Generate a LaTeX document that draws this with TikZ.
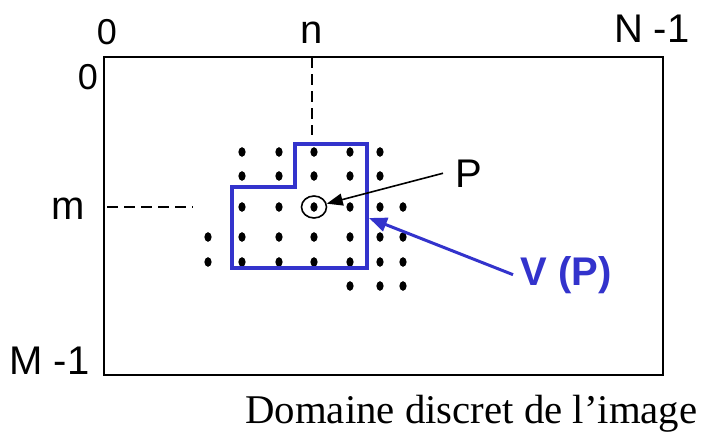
\documentclass[tikz,border=0pt]{standalone}
\usepackage{fontspec}
\setmainfont{Liberation Serif}
\newfontfamily\arial{Liberation Sans}
\usetikzlibrary{arrows.meta,shapes.geometric}
\definecolor{vblue}{RGB}{51,51,204}

\begin{document}
\begin{tikzpicture}[x=0.5pt, y=-0.5pt, >={Triangle[length=8pt,width=6pt]},
    every node/.style={inner sep=0pt, font=\arial\fontsize{20}{24}\selectfont}]

% Estilos
\tikzset{
    frame/.style={draw=black, line width=1pt},
    guide/.style={draw=black, line width=0.6pt, dash pattern=on 5.5pt off 3pt},
    region/.style={draw=vblue, line width=1.6pt},
    pointer/.style={->, line width=0.8pt},
    zerolbl/.style={font=\arial\fontsize{18}{22}\selectfont}
}

\useasboundingbox (0,0) rectangle (703,439);

% =============================================
% DOMAINE DE L'IMAGE
% =============================================
\draw[frame] (104,57) rectangle (663,375);

\node[zerolbl] (col0) at (107,32) {0};
\node[anchor=base] (coln) at (312,44) {n};
\node[anchor=base east] (colN) at (690,42) {N -1};
\node[zerolbl] (row0) at (88,77) {0};
\node[anchor=base east] (rowm) at (85,220) {m};
\node[anchor=base east] (rowM) at (90,374) {M -1};

% Lignes de repere (n, m)
\draw[guide] (312,57) -- (312,135);
\draw[guide] (107,207) -- (193,207);

% =============================================
% PIXELS ET VOISINAGE
% =============================================
\foreach \y/\xs in {152/{242,279,314,350,380},
                    176/{242,279,314,350,380},
                    207/{242,279,314,350,380,403},
                    237/{208,242,279,314,350,380,403},
                    262/{208,242,279,314,350,380,403},
                    286/{350,380,403}} {
    \foreach \x in \xs {
        \fill (\x,\y) ellipse (1.8pt and 2.4pt);
    }
}

% Voisinage V(P)
\draw[region] (295,144) -- (367,144) -- (367,268) -- (232,268)
    -- (232,187) -- (295,187) -- cycle;

% Pixel P
\node[draw, ellipse, line width=0.8pt, minimum width=12.5pt, minimum height=11pt] (cP) at (314,207) {};
\node[anchor=base west] (lblP) at (455,187) {P};
\draw[pointer] ([xshift=-6pt]lblP.west) -- (cP);

\node[anchor=base west, text=vblue, font=\arial\bfseries\fontsize{20}{24}\selectfont] (lblVP) at (520,285) {V (P)};
\coordinate (vtip) at (369,218);
\draw[pointer, vblue, line width=1.5pt, >={Triangle[length=9pt,width=7pt]}] ([xshift=-3.5pt]lblVP.west) -- (vtip);

% Legende
\node[anchor=base west, font=\fontsize{20.4}{24}\selectfont] (caption) at (245,423) {Domaine discret de l’image};

\end{tikzpicture}
\end{document}
